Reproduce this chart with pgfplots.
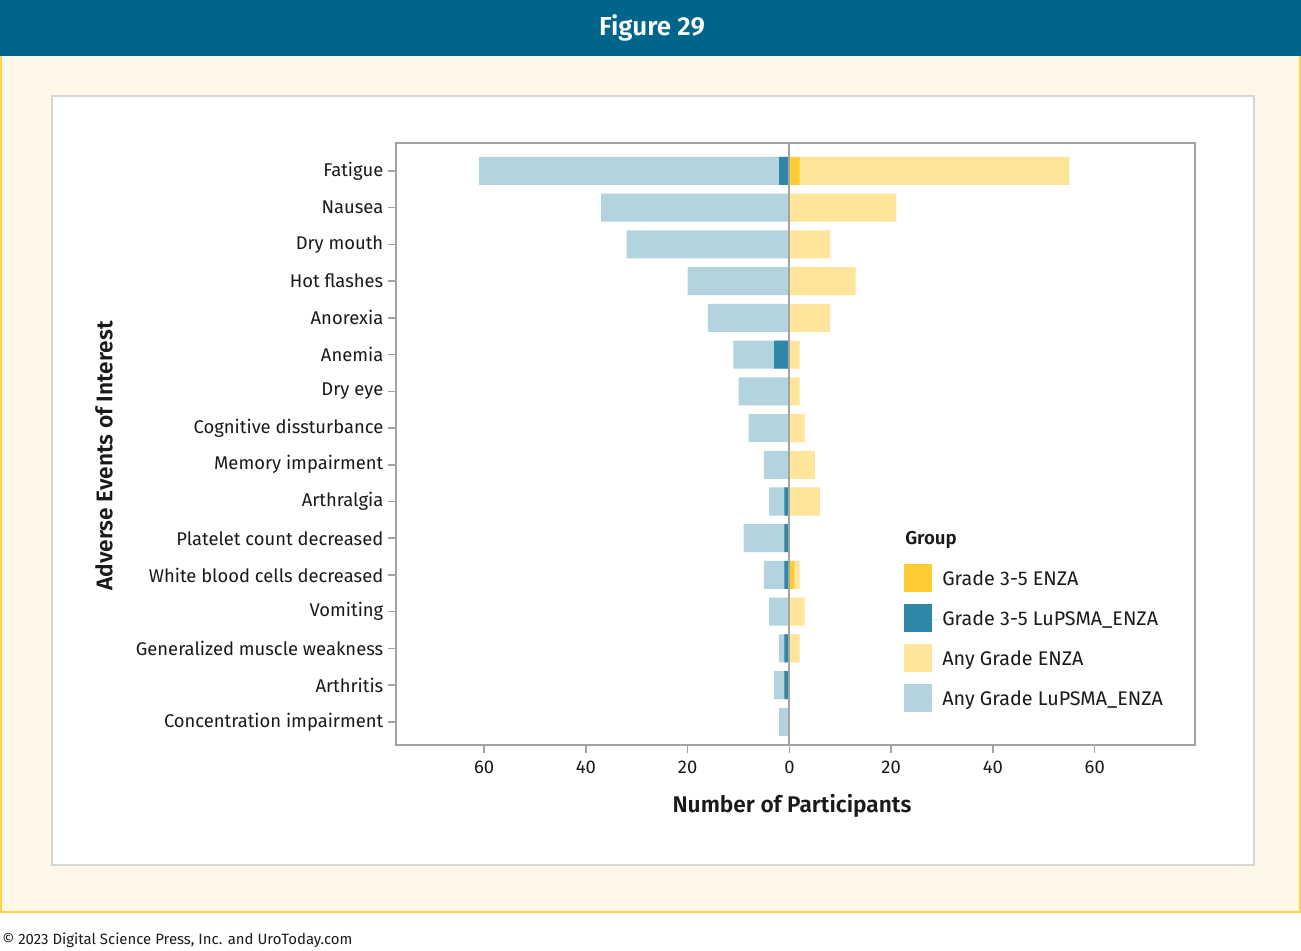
\documentclass[border=0pt]{standalone}
\usepackage{pgfplots}
\usepackage{pgfplotstable}
\pgfplotsset{compat=1.18}
\usepackage{fontspec}
\setmainfont{Fira Sans}[BoldFont={Fira Sans SemiBold}]
\definecolor{hdr}{HTML}{00658B}
\definecolor{cream}{HTML}{FFF8E9}
\definecolor{ybord}{HTML}{FFD24C}
\definecolor{pbord}{HTML}{D6D6D6}
\definecolor{axgray}{HTML}{A3A3A3}
\definecolor{txt}{HTML}{1A1A1A}
\definecolor{anyLu}{HTML}{B3D3DE}
\definecolor{gLu}{HTML}{2F86A6}
\definecolor{anyEN}{HTML}{FFE59A}
\definecolor{gEN}{HTML}{FFCC33}

\pgfplotstableread{
idx anyLu gLu anyEN gEN
0  -61 -2 55 2
1  -37  0 21 0
2  -32  0  8 0
3  -20  0 13 0
4  -16  0  8 0
5  -11 -3  2 0
6  -10  0  2 0
7   -8  0  3 0
8   -5  0  5 0
9   -4 -1  6 0
10  -9 -1  0 0
11  -5 -1  2 1
12  -4  0  3 0
13  -2 -1  2 0
14  -3 -1  0 0
15  -2  0  0 0
}\datatable

\begin{document}
\begin{tikzpicture}
\begin{scope}[x=0.75pt,y=-0.75pt]
\useasboundingbox (0,0) rectangle (1301,950);
\fill[hdr] (0,0) rectangle (1301,56);
\fill[cream] (1,56) rectangle (1300,912);
\draw[ybord, line width=1.5pt] (1,56) -- (1,912) -- (1300,912) -- (1300,56);
\fill[white] (52,96) rectangle (1254,865);
\draw[pbord, line width=1.5pt] (52,96) rectangle (1254,865);
\node[text=white, font=\fontsize{19.5}{22}\selectfont\bfseries] at (652,28) {Figure 29};
\node[text=txt, anchor=west, font=\fontsize{11.2}{13}\selectfont, inner sep=0pt] at (2,940) {© 2023 Digital Science Press, Inc. and UroToday.com};
\node[text=txt, rotate=90, font=\fontsize{17}{20}\selectfont\bfseries] at (104,456) {Adverse Events of Interest};
\node[text=txt, font=\fontsize{17}{20}\selectfont\bfseries] at (792,806) {Number of Participants};
\node[text=txt, anchor=west, inner sep=0pt, font=\fontsize{14}{16}\selectfont\bfseries] at (905,540) {Group};
\end{scope}
\begin{axis}[
  at={(297pt,-107.25pt)}, anchor=north west,
  width=599.25pt, height=451.5pt, scale only axis,
  xmin=-77.3, xmax=79.7, ymin=-0.76, ymax=15.63, y dir=reverse,
  xbar, bar width=21pt, bar shift=0pt,
  ytick={0,...,15},
  yticklabels={Fatigue,Nausea,Dry mouth,Hot flashes,Anorexia,Anemia,Dry eye,Cognitive dissturbance,Memory impairment,Arthralgia,Platelet count decreased,White blood cells decreased,Vomiting,Generalized muscle weakness,Arthritis,Concentration impairment},
  xtick={-60,-40,-20,0,20,40,60},
  xticklabels={60,40,20,0,20,40,60},
  xtick pos=lower, ytick pos=left,
  tick align=outside, major tick length=6pt,
  tick style={axgray, line width=1.1pt},
  axis line style={axgray, line width=1.5pt},
  tick label style={font=\fontsize{13.8}{16}\selectfont, text=txt},
  xticklabel style={yshift=-2.2pt},
  every axis plot/.append style={draw=none},
  reverse legend,
  legend cell align=left,
  legend image code/.code={\fill[#1] (0pt,-9.6pt) rectangle (21pt,11.4pt); \path (0pt,0pt) -- (28.5pt,0pt);},
  legend style={draw=none, fill=none, at={(0.6358,0.3007)}, anchor=north west,
    font=\fontsize{14.8}{17}\selectfont, text=txt, row sep=9pt, inner sep=0pt,
    nodes={inner sep=0pt}, column sep=0pt},
]
\addplot[fill=anyLu, draw=none] table[x=anyLu, y=idx] {\datatable};
\addlegendentry{Any Grade LuPSMA\_ENZA}
\addplot[fill=anyEN, draw=none] table[x=anyEN, y=idx] {\datatable};
\addlegendentry{Any Grade ENZA}
\addplot[fill=gLu, draw=none] table[x=gLu, y=idx] {\datatable};
\addlegendentry{Grade 3-5 LuPSMA\_ENZA}
\addplot[fill=gEN, draw=none] table[x=gEN, y=idx] {\datatable};
\addlegendentry{Grade 3-5 ENZA}
\draw[axgray, line width=1.5pt] (axis cs:0,-0.76) -- (axis cs:0,15.63);
\end{axis}
\end{tikzpicture}
\end{document}
